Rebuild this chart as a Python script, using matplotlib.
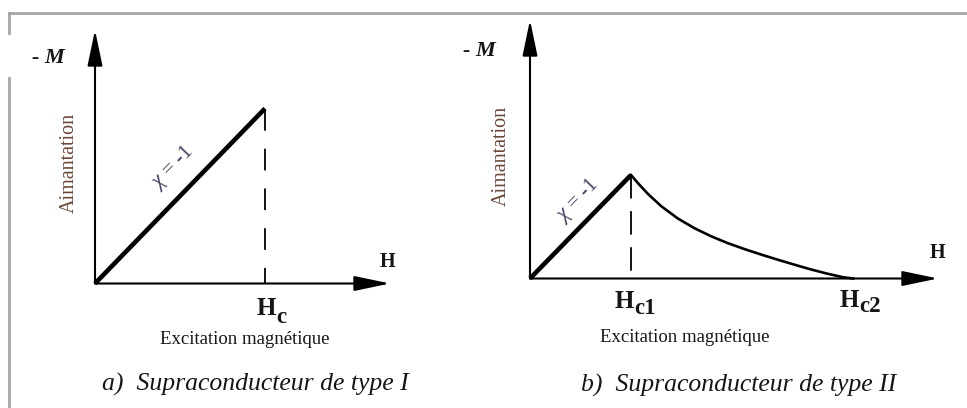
import matplotlib
matplotlib.use("Agg")
import matplotlib.pyplot as plt
from matplotlib.patches import FancyArrowPatch
from matplotlib.lines import Line2D

plt.rcParams["font.family"] = ["Liberation Serif", "DejaVu Serif"]
plt.rcParams["mathtext.fontset"] = "custom"
plt.rcParams["mathtext.rm"] = "Liberation Serif"
plt.rcParams["mathtext.bf"] = "Liberation Serif:bold"
plt.rcParams["mathtext.it"] = "Liberation Serif:italic"

# ---- Type I superconductor: perfect diamagnetism up to Hc (chi = -1) ----
HC = 1.0
type1_H = [0.0, HC]
type1_M = [0.0, HC]

# ---- Type II superconductor: Meissner state up to Hc1, mixed state to Hc2 ----
HC1 = 1.0
HC2 = 3.2
meissner_H = [0.0, HC1]
meissner_M = [0.0, HC1]
mixed_H = [1.0, 1.07, 1.17, 1.30, 1.465, 1.63, 1.80, 1.96, 2.13, 2.29,
           2.455, 2.62, 2.78, 2.95, 3.10, 3.2]
mixed_M = [1.0, 0.920, 0.815, 0.698, 0.579, 0.485, 0.405, 0.341, 0.282, 0.231,
           0.181, 0.133, 0.088, 0.045, 0.012, 0.0]

x_label = "Excitation magnétique"
y_label = "Aimantation"
captions = ["a)  Supraconducteur de type I", "b)  Supraconducteur de type II"]

W, H = 967, 408
fig = plt.figure(figsize=(W / 100, H / 100), dpi=100)
fig.patch.set_facecolor("white")


def fx(x):
    return x / W


def fy(y):
    return 1 - y / H


# frame around the figure (the left edge is interrupted behind the "- M" label box)
FRAME = "#a6a6a6"
fig.add_artist(Line2D([fx(9), fx(967)], [fy(13), fy(13)], color=FRAME, lw=2.0,
                      transform=fig.transFigure))
fig.add_artist(Line2D([fx(9), fx(9)], [fy(13), fy(33)], color=FRAME, lw=2.0,
                      transform=fig.transFigure))
fig.add_artist(Line2D([fx(9), fx(9)], [fy(78), fy(408)], color=FRAME, lw=2.0,
                      transform=fig.transFigure))

TXT = "#151515"
BROWN = "#6a4636"
BLUE = "#3e3f62"


def make_axes(rect, xmax, ymax):
    ax = fig.add_axes(rect)
    ax.set_xlim(0, xmax)
    ax.set_ylim(0, ymax)
    ax.axis("off")
    for end in [(xmax, 0), (0, ymax)]:
        arr = FancyArrowPatch((0, 0), end, transform=ax.transData,
                              arrowstyle="-|>,head_length=22,head_width=4.6",
                              mutation_scale=1, shrinkA=0, shrinkB=0,
                              color="black", lw=1.5, clip_on=False)
        ax.add_patch(arr)
    return ax


# left panel
ax1 = make_axes([fx(95), fy(283.5), (390 - 95) / W, (283.5 - 30) / H], 295 / 170, 253.5 / 175)
ax1.plot(type1_H, type1_M, color="black", lw=3.3, solid_capstyle="butt", clip_on=False)
ax1.plot([HC, HC], [type1_M[-1], 0], color="black", lw=1.3, dashes=(12, 10),
         dash_capstyle="butt", clip_on=False)

# right panel
ax2 = make_axes([fx(530), fy(278.5), (938 - 530) / W, (278.5 - 20) / H], 408 / 101, 258.5 / 103.5)
ax2.plot(meissner_H, meissner_M, color="black", lw=3.3, solid_capstyle="butt", clip_on=False)
ax2.plot(mixed_H, mixed_M, color="black", lw=1.9, solid_joinstyle="round", clip_on=False)
ax2.plot([HC1, HC1], [meissner_M[-1], 0], color="black", lw=1.3, dashes=(13, 7),
         dash_capstyle="butt", clip_on=False)

# axis names
for x, y in [(48, 58), (479, 51)]:
    fig.text(fx(x), fy(y), "- M", fontsize=16, fontweight="bold", style="italic",
             ha="center", va="center", color=TXT)
for x, y in [(387, 262), (937, 253)]:
    fig.text(fx(x), fy(y), "H", fontsize=14.5, fontweight="bold", ha="center", va="center",
             color=TXT)


# critical field labels: bold H with a large, lowered subscript
def field_label(x_left, y_base, sub, sub_drop):
    t = fig.text(fx(x_left), fy(y_base), "H", fontsize=18, fontweight="bold",
                 ha="left", va="baseline", color=TXT)
    fig.text(fx(x_left + 19.5), fy(y_base + sub_drop), sub, fontsize=16.5, fontweight="bold",
             ha="left", va="baseline", color=TXT)
    return t


field_label(257, 315, "c", 8)
field_label(615, 308, "c1", 6)
field_label(840, 307, "c2", 5)

for x, y in [(245, 339), (685, 337)]:
    fig.text(fx(x), fy(y), x_label, fontsize=13.5, ha="center", va="center", color=TXT)
for x, y in [(69.5, 163), (501, 156)]:
    fig.text(fx(x), fy(y), y_label, fontsize=14.5, rotation=90, ha="center", va="center",
             color=BROWN)

fig.text(fx(173), fy(168), r"$\chi$ = -1", fontsize=15, rotation=46, ha="center", va="center",
         color=BLUE)
fig.text(fx(578), fy(201), r"$\chi$ = -1", fontsize=15, rotation=46, ha="center", va="center",
         color=BLUE)

for (x, y), cap in zip([(255, 384), (739, 385)], captions):
    fig.text(fx(x), fy(y), cap, fontsize=18.5, style="italic", ha="center", va="center",
             color=TXT)

fig.savefig("out.png", dpi=100)
